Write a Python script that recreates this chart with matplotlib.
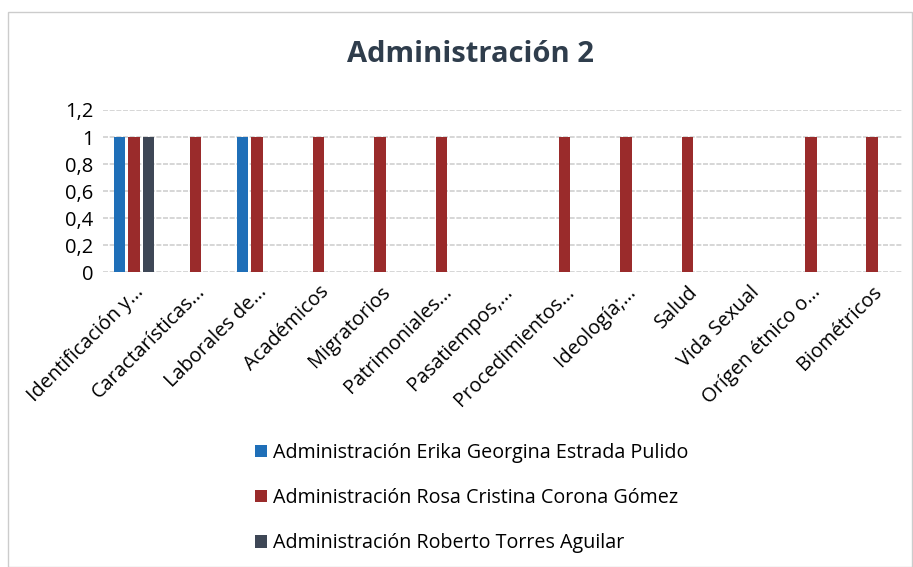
import numpy as np
import matplotlib.pyplot as plt
from matplotlib.patches import Rectangle

plt.rcParams['font.family'] = ['Open Sans', 'DejaVu Sans']

categorias = ["Identificación y...", "Caractarísticas...", "Laborales de...", "Académicos",
              "Migratorios", "Patrimoniales...", "Pasatiempos,...", "Procedimientos...",
              "Ideología;...", "Salud", "Vida Sexual", "Orígen étnico o...", "Biométricos"]
erika = [1, 0, 1, 0, 0, 0, 0, 0, 0, 0, 0, 0, 0]
rosa = [1, 1, 1, 1, 1, 1, 0, 1, 1, 1, 0, 1, 1]
roberto = [1, 0, 0, 0, 0, 0, 0, 0, 0, 0, 0, 0, 0]
series = ["Administración Erika Georgina Estrada Pulido",
          "Administración Rosa Cristina Corona Gómez",
          "Administración Roberto Torres Aguilar"]
colores = ["#1f6fb8", "#9a2b2b", "#3e4756"]
yticks = [0, 0.2, 0.4, 0.6, 0.8, 1, 1.2]
ylabels = ["0", "0,2", "0,4", "0,6", "0,8", "1", "1,2"]

fig = plt.figure(figsize=(9.13, 5.67), dpi=100)
fig.patches.append(Rectangle((0.009, 0.0), 0.99, 0.978, transform=fig.transFigure,
                             fill=False, edgecolor="#cccccc", lw=1))
ax = fig.add_axes([0.113, 0.520, 0.876, 0.286])

x = np.arange(len(categorias))
w = 0.19
paso = 0.235
for i, (vals, lab, c) in enumerate(zip([erika, rosa, roberto], series, colores)):
    ax.bar(x + (i - 1) * paso, vals, width=w, color=c, label=lab, zorder=3)

ax.set_xlim(-0.5, len(categorias) - 0.5)
ax.set_ylim(0, 1.2)
ax.set_yticks(yticks, ylabels, fontsize=14.5)
ax.set_xticks(x, categorias, fontsize=14.3, rotation=45, ha="right", rotation_mode="anchor")
ax.tick_params(length=0, pad=7)
ax.tick_params(axis="x", pad=7)
ax.grid(axis="y", color="#d0d0d0", lw=1.2, ls=(0, (3, 1)), zorder=0)
for s in ax.spines.values():
    s.set_visible(False)

fig.text(0.515, 0.903, "Administración 2", ha="center", va="center",
         fontsize=21, fontweight="bold", color="#2f3d4c")

fig.legend(loc="upper left", bbox_to_anchor=(0.271, 0.233), frameon=False,
           fontsize=14.2, handlelength=0.6, handleheight=0.6, handletextpad=0.3,
           labelspacing=1.28, borderaxespad=0)

fig.savefig("out.png", dpi=100)
